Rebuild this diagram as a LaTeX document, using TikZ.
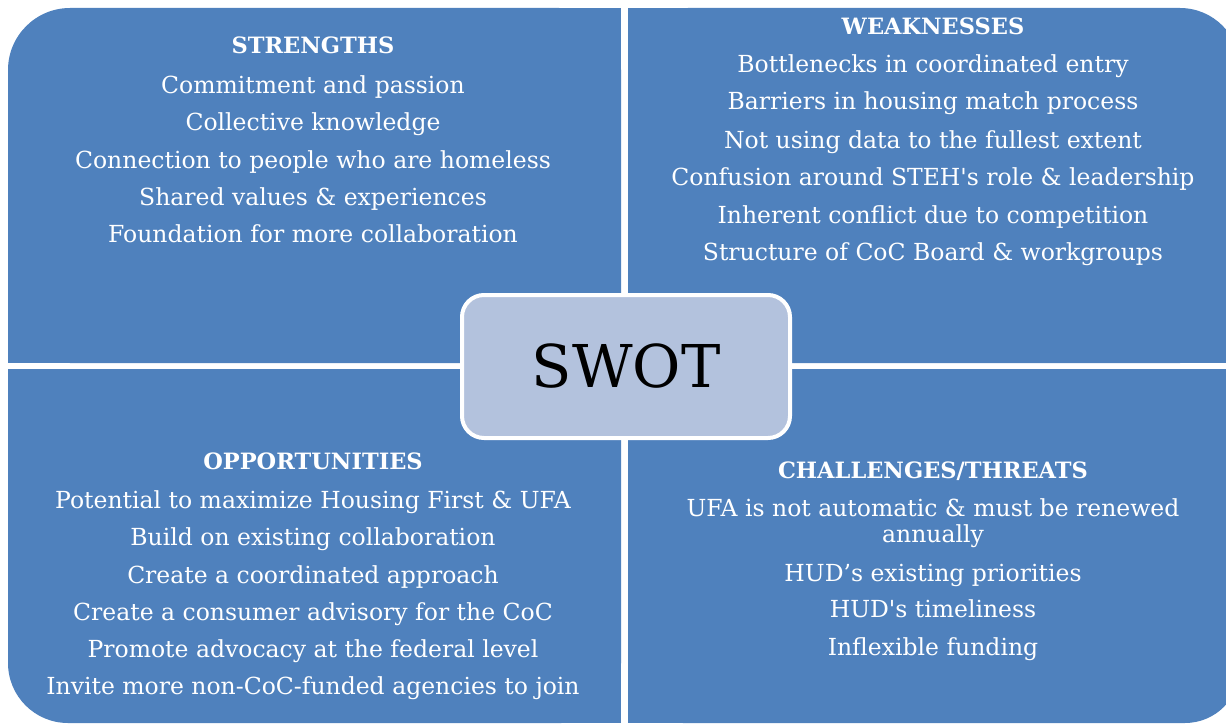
\documentclass[tikz,border=0pt]{standalone}
\usepackage{fontspec}
\setmainfont{DejaVu Serif}
\definecolor{quad}{HTML}{4F81BD}
\definecolor{core}{HTML}{B3C2DD}
\begin{document}
\begin{tikzpicture}[x=1pt,y=-1pt,
  head/.style={anchor=base,text=white,inner sep=0pt,
    font=\bfseries\fontsize{22.5}{26}\selectfont},
  item/.style={anchor=base,text=white,inner sep=0pt,
    font=\fontsize{23.5}{28}\selectfont},
  core box/.style={draw=white,line width=4pt,fill=core,rounded corners=22pt,
    minimum width=328pt,minimum height=143pt,inner sep=0pt,
    font=\fontsize{59}{60}\selectfont},
]
\useasboundingbox (0,0) rectangle (1226,725);
\clip (0,0) rectangle (1226,725);

% four quadrants, each with one rounded outer corner
\fill[quad,rounded corners=62pt] (8,8) rectangle (621,363);
\fill[quad] (200,8) rectangle (621,363);
\fill[quad] (8,200) rectangle (621,363);

\fill[quad,rounded corners=60pt] (628,8) rectangle (1240,363);
\fill[quad] (628,8) rectangle (1000,363);
\fill[quad] (628,100) rectangle (1240,363);

\fill[quad,rounded corners=60pt] (8,369) rectangle (621,723);
\fill[quad] (8,369) rectangle (621,600);
\fill[quad] (200,369) rectangle (621,723);

\fill[quad,rounded corners=55pt] (628,369) rectangle (1240,723);
\fill[quad] (628,369) rectangle (1240,600);
\fill[quad] (628,369) rectangle (1000,723);

% centre label
\node[core box] (swot) at (626,366.5) {SWOT};

% strengths
\node[head] (s0) at (313,54) {STRENGTHS};
\node[item] (s1) at (313,93) {Commitment and passion};
\node[item] (s2) at (313,130) {Collective knowledge};
\node[item] (s3) at (313,168) {Connection to people who are homeless};
\node[item] (s4) at (313,205) {Shared values \& experiences};
\node[item] (s5) at (313,242) {Foundation for more collaboration};

% weaknesses
\node[head] (w0) at (933,35) {WEAKNESSES};
\node[item] (w1) at (933,73) {Bottlenecks in coordinated entry};
\node[item] (w2) at (933,110) {Barriers in housing match process};
\node[item] (w3) at (933,148) {Not using data to the fullest extent};
\node[item] (w4) at (933,185) {Confusion around STEH\textquotesingle s role \& leadership};
\node[item] (w5) at (933,223) {Inherent conflict due to competition};
\node[item] (w6) at (933,260) {Structure of CoC Board \& workgroups};

% opportunities
\node[head] (o0) at (313,469) {OPPORTUNITIES};
\node[item] (o1) at (313,508) {Potential to maximize Housing First \& UFA};
\node[item] (o2) at (313,545) {Build on existing collaboration};
\node[item] (o3) at (313,583) {Create a coordinated approach};
\node[item] (o4) at (313,620) {Create a consumer advisory for the CoC};
\node[item] (o5) at (313,657) {Promote advocacy at the federal level};
\node[item] (o6) at (313,694) {Invite more non-CoC-funded agencies to join};

% challenges / threats
\node[head] (t0) at (933,478) {CHALLENGES/THREATS};
\node[item] (t1) at (933,516) {UFA is not automatic \& must be renewed};
\node[item] (t2) at (933,542) {annually};
\node[item] (t3) at (933,581) {HUD’s existing priorities};
\node[item] (t4) at (933,617) {HUD\textquotesingle s timeliness};
\node[item] (t5) at (933,655) {Inflexible funding};
\end{tikzpicture}
\end{document}
